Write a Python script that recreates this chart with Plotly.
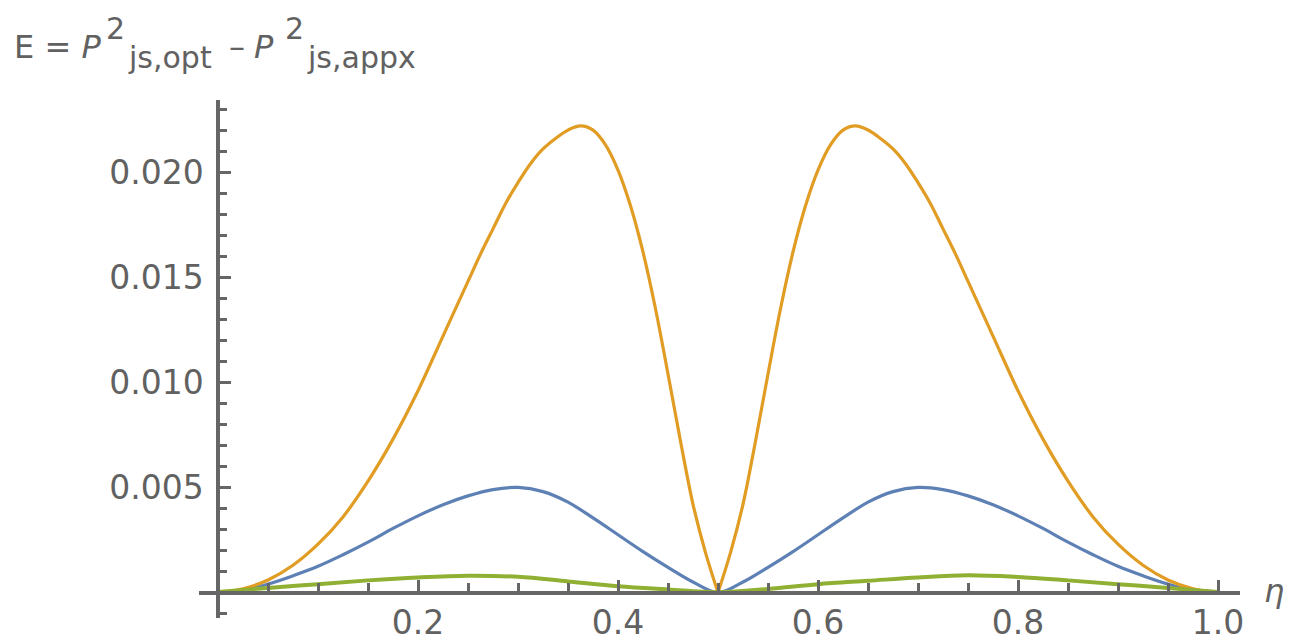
import plotly.graph_objects as go

# ---- curve readings: E(eta) for the three approximations ----
eta_orange = [0, 0.025, 0.05, 0.075, 0.1, 0.125, 0.15, 0.175, 0.2, 0.225, 0.25, 0.2625,
              0.275, 0.2875, 0.3, 0.3125, 0.325, 0.3375, 0.35, 0.3625, 0.375, 0.3875,
              0.4, 0.4125, 0.425, 0.4375, 0.45, 0.4625, 0.475, 0.4875, 0.5,
              0.5125, 0.525, 0.5375, 0.55, 0.5625, 0.575, 0.5875, 0.6, 0.6125, 0.625,
              0.6375, 0.65, 0.6625, 0.675, 0.6875, 0.7, 0.7125, 0.725, 0.7375, 0.75,
              0.775, 0.8, 0.825, 0.85, 0.875, 0.9, 0.925, 0.95, 0.975, 1.0]
err_orange = [0, 0.00018, 0.0006, 0.0013, 0.0023, 0.0036, 0.0053, 0.0073, 0.0096, 0.0122,
              0.0148, 0.0161, 0.0173, 0.0185, 0.0195, 0.0204, 0.0211, 0.0216, 0.0220,
              0.0222, 0.0220, 0.0213, 0.0201, 0.0184, 0.0162, 0.0135, 0.0104, 0.0072,
              0.0042, 0.0019, 0,
              0.0019, 0.0042, 0.0072, 0.0104, 0.0135, 0.0162, 0.0184, 0.0201, 0.0213,
              0.0220, 0.0222, 0.0220, 0.0216, 0.0211, 0.0204, 0.0195, 0.0185, 0.0173,
              0.0161, 0.0148, 0.0122, 0.0096, 0.0073, 0.0053, 0.0036, 0.0023, 0.0013,
              0.0006, 0.00018, 0]

eta_blue = [0, 0.025, 0.05, 0.075, 0.1, 0.125, 0.15, 0.175, 0.2, 0.225, 0.25, 0.275,
            0.3, 0.325, 0.35, 0.375, 0.4, 0.425, 0.45, 0.475, 0.5, 0.525, 0.55, 0.575,
            0.6, 0.625, 0.65, 0.675, 0.7, 0.725, 0.75, 0.775, 0.8, 0.825, 0.85, 0.875,
            0.9, 0.925, 0.95, 0.975, 1.0]
err_blue = [0, 0.0001, 0.0004, 0.0008, 0.00125, 0.0018, 0.0024, 0.00305, 0.00365, 0.00418,
            0.0046, 0.0049, 0.0050, 0.0048, 0.0043, 0.00355, 0.00275, 0.00195, 0.0012,
            0.0005, 0, 0.0005, 0.0012, 0.00195, 0.00275, 0.00355, 0.0043, 0.0048, 0.0050,
            0.0049, 0.0046, 0.00418, 0.00365, 0.00305, 0.0024, 0.0018, 0.00125, 0.0008,
            0.0004, 0.0001, 0]

eta_green = [0, 0.05, 0.1, 0.15, 0.2, 0.25, 0.3, 0.35, 0.4, 0.45, 0.5, 0.55, 0.6, 0.65,
             0.7, 0.75, 0.8, 0.85, 0.9, 0.95, 1.0]
err_green = [0.00003, 0.00022, 0.0004, 0.00058, 0.00072, 0.0008, 0.00075, 0.00053, 0.0003,
             0.00015, 0.00002, 0.00017, 0.0004, 0.00056, 0.00072, 0.00082, 0.00074,
             0.00058, 0.0004, 0.00022, 0.00003]

# ---- axes ----
x_tick_vals = [0.2, 0.4, 0.6, 0.8, 1.0]
x_tick_text = ["0.2", "0.4", "0.6", "0.8", "1.0"]
x_minor_vals = [0.05, 0.1, 0.15, 0.25, 0.3, 0.35, 0.45, 0.5, 0.55, 0.65, 0.7, 0.75,
                0.85, 0.9, 0.95]
y_tick_vals = [0.005, 0.010, 0.015, 0.020]
y_tick_text = ["0.005", "0.010", "0.015", "0.020"]
y_minor_vals = [-0.001, 0.001, 0.002, 0.003, 0.004, 0.006, 0.007, 0.008, 0.009,
                0.011, 0.012, 0.013, 0.014, 0.016, 0.017, 0.018, 0.019,
                0.021, 0.022, 0.023]

X_RANGE = [-0.019, 1.022]
Y_RANGE = [-0.00121, 0.02343]

BLUE = "#5E81B5"
ORANGE = "#E19C24"
GREEN = "#8FB032"
AXIS = "#666666"
TEXT = "#616161"
FONT = "DejaVu Sans"

W_PX, H_PX = 1291, 641
M_L, M_R, M_T, M_B = 199, 51, 100, 23
PW, PH = W_PX - M_L - M_R, H_PX - M_T - M_B

fig = go.Figure()


def add_curve(x, y, color, width):
    fig.add_trace(go.Scatter(x=x, y=y, mode="lines",
                             line=dict(color=color, width=width, shape="spline",
                                       smoothing=1.0),
                             hoverinfo="skip", showlegend=False))


add_curve(eta_blue, err_blue, BLUE, 3.2)
# the orange curve has a cusp at eta = 0.5: draw its two lobes separately
cusp = eta_orange.index(0.5)
add_curve(eta_orange[:cusp + 1], err_orange[:cusp + 1], ORANGE, 3.2)
add_curve(eta_orange[cusp:], err_orange[cusp:], ORANGE, 3.2)
add_curve(eta_green, err_green, GREEN, 4)

axis_common = dict(showline=True, linecolor=AXIS, linewidth=3.5, ticks="inside",
                   tickcolor=AXIS, tickwidth=3, showgrid=False, zeroline=False,
                   anchor="free", tickmode="array", automargin=False,
                   tickfont=dict(family=FONT, size=33, color=TEXT))

fig.update_layout(
    width=W_PX, height=H_PX, autosize=False,
    margin=dict(l=M_L, r=M_R, t=M_T, b=M_B, pad=0, autoexpand=False),
    paper_bgcolor="white", plot_bgcolor="white",
    xaxis=dict(range=X_RANGE, tickvals=x_tick_vals, ticktext=x_tick_text, ticklen=11,
               position=(0 - Y_RANGE[0]) / (Y_RANGE[1] - Y_RANGE[0]),
               ticklabelstandoff=0,
               minor=dict(tickmode="array", tickvals=x_minor_vals, ticks="inside",
                          ticklen=8, tickwidth=3, tickcolor=AXIS),
               **axis_common),
    yaxis=dict(range=Y_RANGE, tickvals=y_tick_vals, ticktext=y_tick_text, ticklen=11,
               position=(0 - X_RANGE[0]) / (X_RANGE[1] - X_RANGE[0]),
               ticklabelstandoff=6,
               minor=dict(tickmode="array", tickvals=y_minor_vals, ticks="inside",
                          ticklen=7, tickwidth=3, tickcolor=AXIS),
               **axis_common),
)


def label(text, left_px, baseline_px, size):
    """Place text by its left edge and baseline, in page pixels."""
    top_px = baseline_px - 1 - 0.93 * size
    fig.add_annotation(text=text, xref="paper", yref="paper",
                       x=(left_px - M_L) / PW, y=(M_T + PH - top_px) / PH,
                       xanchor="left", yanchor="top", showarrow=False,
                       borderpad=1, font=dict(family=FONT, size=size, color=TEXT))


# axis label of the y axis: E = P²_js,opt − P²_js,appx
label("E = <i>P</i>", 12, 57, 32)
label("2", 104, 38, 30)
label("js,opt", 126, 67, 30)
label("–", 227, 57, 32)
label("<i>P</i>", 252, 57, 32)
label("2", 283, 38, 30)
label("js,appx", 305, 67, 30)
# axis label of the x axis
label("<i>η</i>", 1262, 601, 32)

fig.write_html("out.html")
